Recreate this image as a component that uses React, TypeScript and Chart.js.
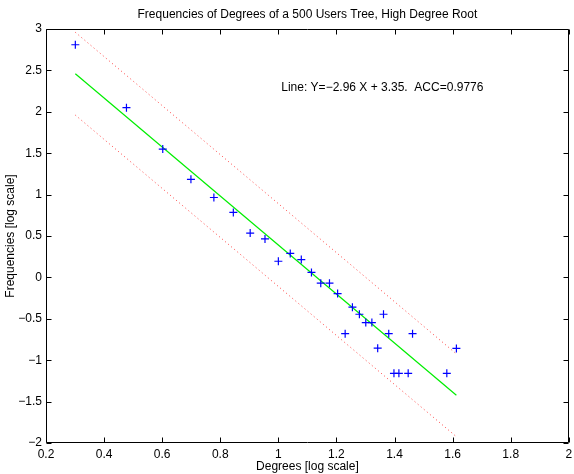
import React, { useEffect, useRef } from 'react';
import { Chart, registerables } from 'chart.js';

Chart.register(...registerables);

// ---- data ----
const degreesLog = [
  0.301, 0.477, 0.602, 0.699, 0.778, 0.845, 0.903, 0.954, 1.0, 1.041,
  1.079, 1.114, 1.146, 1.176, 1.204, 1.23, 1.255, 1.279, 1.301, 1.322,
  1.342, 1.362, 1.38, 1.398, 1.415, 1.447, 1.462, 1.58, 1.613,
];
const freqLog = [
  2.81, 2.05, 1.55, 1.185, 0.965, 0.785, 0.535, 0.465, 0.195, 0.29,
  0.215, 0.06, -0.07, -0.07, -0.195, -0.68, -0.36, -0.445, -0.545, -0.545,
  -0.855, -0.445, -0.68, -1.158, -1.158, -1.158, -0.68, -1.158, -0.858,
];
const fitX = [0.301, 1.613];
const fitY = [2.46, -1.424];
const upperY = [2.96, -0.924];
const lowerY = [1.96, -1.924];

const xTicks = [0.2, 0.4, 0.6, 0.8, 1, 1.2, 1.4, 1.6, 1.8, 2];
const yTicks = [-2, -1.5, -1, -0.5, 0, 0.5, 1, 1.5, 2, 2.5, 3];

const titleText = 'Frequencies of Degrees of a 500 Users Tree, High Degree Root';
const xLabel = 'Degrees [log scale]';
const yLabel = 'Frequencies [log scale]';
const noteText = 'Line: Y=\u22122.96 X + 3.35.  ACC=0.9776';
const notePos = [1.01, 2.29];

const FONT = "'Liberation Sans', Arial, Helvetica, sans-serif";
const FS = 12;

const fmt = (v: number) => String(+Number(v).toFixed(2)).replace('-', '\u2212');

const decorPlugin = {
  id: 'decor',
  afterDraw(chart: any) {
    const ctx = chart.ctx as CanvasRenderingContext2D;
    const { left, right, top, bottom } = chart.chartArea;
    const xs = chart.scales.x;
    const ys = chart.scales.y;
    ctx.save();
    // frame
    ctx.strokeStyle = '#000';
    ctx.lineWidth = 1;
    const L = Math.round(left) + 0.5;
    const R = Math.round(right) - 0.5;
    const T = Math.round(top) + 0.5;
    const B = Math.round(bottom) - 0.5;
    ctx.beginPath();
    ctx.rect(L, T, R - L, B - T);
    ctx.stroke();
    // inward ticks on all sides
    const tl = 5;
    ctx.beginPath();
    xTicks.forEach((v) => {
      const px = Math.round(xs.getPixelForValue(v)) + 0.5;
      ctx.moveTo(px, B);
      ctx.lineTo(px, B - tl);
      ctx.moveTo(px, T);
      ctx.lineTo(px, T + tl);
    });
    yTicks.forEach((v) => {
      const py = Math.round(ys.getPixelForValue(v)) + 0.5;
      ctx.moveTo(L, py);
      ctx.lineTo(L + tl, py);
      ctx.moveTo(R, py);
      ctx.lineTo(R - tl, py);
    });
    ctx.stroke();
    // title
    ctx.fillStyle = '#000';
    ctx.font = `${FS}px ${FONT}`;
    ctx.textAlign = 'center';
    ctx.textBaseline = 'middle';
    ctx.fillText(titleText, (left + right) / 2, 15);
    // annotation
    ctx.textAlign = 'left';
    ctx.fillText(noteText, xs.getPixelForValue(notePos[0]), ys.getPixelForValue(notePos[1]));
    ctx.restore();
  },
};

export default function App() {
  const ref = useRef<HTMLCanvasElement | null>(null);

  useEffect(() => {
    if (!ref.current) return;
    const pts = degreesLog.map((x, i) => ({ x, y: freqLog[i] }));
    const fit = fitX.map((x, i) => ({ x, y: fitY[i] }));
    const up = fitX.map((x, i) => ({ x, y: upperY[i] }));
    const lo = fitX.map((x, i) => ({ x, y: lowerY[i] }));

    const chart = new Chart(ref.current, {
      type: 'scatter',
      data: {
        datasets: [
          {
            label: 'upper',
            data: up,
            showLine: true,
            borderColor: 'rgba(255,0,0,0.75)',
            borderWidth: 1,
            borderDash: [1, 3],
            pointRadius: 0,
            order: 4,
          },
          {
            label: 'lower',
            data: lo,
            showLine: true,
            borderColor: 'rgba(255,0,0,0.75)',
            borderWidth: 1,
            borderDash: [1, 3],
            pointRadius: 0,
            order: 3,
          },
          {
            label: 'fit',
            data: fit,
            showLine: true,
            borderColor: '#00ee00',
            borderWidth: 1.2,
            pointRadius: 0,
            order: 2,
          },
          {
            label: 'freq',
            data: pts,
            showLine: false,
            pointStyle: 'cross',
            pointRadius: 4,
            borderColor: '#0000ff',
            backgroundColor: '#0000ff',
            borderWidth: 1.2,
            order: 1,
          },
        ],
      },
      options: {
        responsive: false,
        animation: false,
        events: [],
        layout: { padding: { top: 29, right: 1, left: 0, bottom: 0 } },
        plugins: {
          legend: { display: false },
          tooltip: { enabled: false },
          title: { display: false },
        },
        scales: {
          x: {
            type: 'linear',
            min: 0.2,
            max: 2,
            afterBuildTicks: (s: any) => {
              s.ticks = xTicks.map((v) => ({ value: v }));
            },
            afterFit: (s: any) => {
              s.height = 31;
              s.paddingLeft = 0;
              s.paddingRight = 0;
            },
            grid: { display: false, drawTicks: false },
            border: { display: false },
            ticks: {
              autoSkip: false,
              maxRotation: 0,
              padding: 4,
              color: '#000',
              font: { family: FONT, size: FS },
              callback: (v: any) => fmt(v),
            },
            title: {
              display: true,
              text: xLabel,
              color: '#000',
              font: { family: FONT, size: FS },
              padding: { top: 0, bottom: 0 },
            },
          },
          y: {
            type: 'linear',
            min: -2,
            max: 3,
            afterBuildTicks: (s: any) => {
              s.ticks = yTicks.map((v) => ({ value: v }));
            },
            afterFit: (s: any) => {
              s.width = 46;
              s.paddingTop = 0;
              s.paddingBottom = 0;
            },
            grid: { display: false, drawTicks: false },
            border: { display: false },
            ticks: {
              autoSkip: false,
              padding: 4,
              color: '#000',
              font: { family: FONT, size: FS },
              callback: (v: any) => fmt(v),
            },
            title: {
              display: true,
              text: yLabel,
              color: '#000',
              font: { family: FONT, size: FS },
              padding: { top: 3, bottom: 0 },
            },
          },
        },
      },
      plugins: [decorPlugin],
    });
    return () => chart.destroy();
  }, []);

  return (
    <div style={{ position: 'fixed', left: 0, top: 0, width: 574, height: 474, background: '#fff' }}>
      <canvas ref={ref} width={574} height={474} style={{ display: 'block' }} />
    </div>
  );
}
